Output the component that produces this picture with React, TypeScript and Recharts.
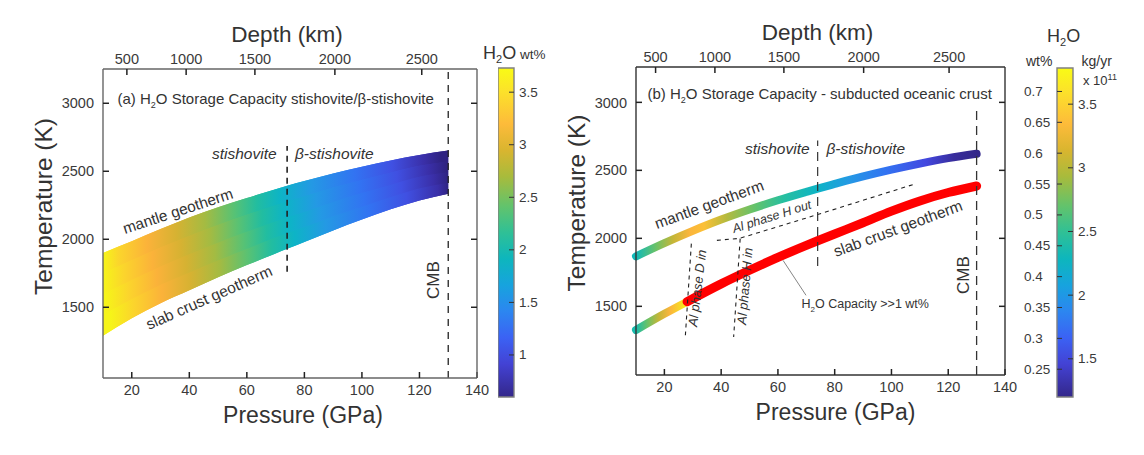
import {
  ComposedChart,
  Area,
  Bar,
  Line,
  XAxis,
  YAxis,
  ReferenceLine,
} from 'recharts';

// panel (a) band, edges from the mantle geotherm down to the slab crust geotherm
const bandPressure = [10, 20, 30, 40, 50, 60, 70, 74, 80, 90, 100, 110, 120, 130];
const bandMantle = [1900, 1985, 2075, 2160, 2235, 2303, 2368, 2393, 2428, 2483, 2533, 2580, 2620, 2652];
const bandUpper = [1750, 1845, 1940, 2025, 2105, 2180, 2250, 2278, 2315, 2380, 2436, 2490, 2540, 2572];
const bandMiddle = [1595, 1700, 1800, 1890, 1975, 2055, 2130, 2160, 2200, 2275, 2340, 2400, 2460, 2493];
const bandLower = [1445, 1560, 1665, 1755, 1845, 1930, 2015, 2045, 2090, 2170, 2240, 2310, 2375, 2414];
const bandSlab = [1290, 1420, 1530, 1625, 1720, 1810, 1895, 1930, 1980, 2065, 2145, 2220, 2285, 2335];

// panel (b) geotherms
const mantlePressure = [10, 20, 30, 40, 50, 60, 70, 74, 80, 90, 100, 110, 120, 130];
const mantleTemp = [1868, 1965, 2055, 2138, 2212, 2280, 2342, 2366, 2400, 2455, 2505, 2550, 2590, 2622];
const slabLowPressure = [10, 20, 28];
const slabLowTemp = [1326, 1445, 1534];
const slabHighPressure = [28, 40, 50, 60, 70, 74, 80, 90, 100, 110, 120, 130];
const slabHighTemp = [1534, 1665, 1765, 1860, 1948, 1982, 2032, 2115, 2200, 2275, 2337, 2385];

// phase boundaries, [pressure, temperature]
const phaseDIn = [[29.5, 1961], [27.4, 1287]];
const phaseHIn = [[46.7, 1998], [44.4, 1274]];
const phaseHOut = [[38.5, 1985], [46.5, 2000], [74, 2175], [108.6, 2402]];
const capacityLeader = [[61.8, 1838], [69.9, 1581]];

// axes
const pressureTicks = [20, 40, 60, 80, 100, 120, 140];
const tempTicks = [1500, 2000, 2500, 3000];
const depthLabels = [500, 1000, 1500, 2000, 2500];
const depthPressureA = [18.3, 38.9, 62.8, 90.6, 120.8];
const depthPressureB = [16.9, 37.8, 62.1, 90.2, 120.3];

// colour bars
const barTicksA = [1, 1.5, 2, 2.5, 3, 3.5];
const barTicksWt = [0.25, 0.3, 0.35, 0.4, 0.45, 0.5, 0.55, 0.6, 0.65, 0.7];
const barTicksKg = [1.5, 2, 2.5, 3, 3.5];

const parula = [
  [0, '#f9fb15'], [0.07, '#fce22a'], [0.17, '#fdbb3a'], [0.25, '#d9b52f'], [0.33, '#a8bb3c'],
  [0.42, '#62c36c'], [0.5, '#2fc096'], [0.58, '#0db6bd'], [0.66, '#17a3de'], [0.74, '#2c86f0'],
  [0.82, '#3b62f4'], [0.9, '#4342d4'], [1, '#33278a'],
];
const bandStops = [
  [10, '#f6f518'], [18, '#fbd52c'], [28, '#fbb23a'], [38, '#d6b232'], [48, '#a4bb42'], [58, '#58c274'],
  [66, '#22bda0'], [74, '#0db4c6'], [85, '#2499e4'], [100, '#3273f2'], [113, '#4050e2'], [124, '#3a2fa8'], [130, '#2f2382'],
];
const mantleStops = [
  [10, '#10b9b8'], [17, '#6ac268'], [23, '#c4b638'], [29, '#fbb53c'], [34, '#fbc035'], [42, '#b4ba3e'], [52, '#62c36c'],
  [62, '#27bfa0'], [74, '#0db4c6'], [85, '#2499e4'], [98, '#3273f2'], [112, '#4348e0'], [122, '#382d9c'], [130, '#33278a'],
];
const slabLowStops = [
  [10, '#18bcae'], [14, '#6ac268'], [18, '#c4b638'], [22, '#fbb53c'], [28, '#f6f018'],
];
// how far the colours of each slice of the band lag behind in pressure, top slice first
const sliceShift = [-2.5, -0.8, 0.8, 2.5];

const inkColor = '#333';
const tickStyle = { fontSize: 14.5, fill: '#3a3a3a' };

const rows = (ps: number[], keys: Record<string, number[]>) =>
  ps.map((p, i) => {
    const row: Record<string, number> = { p };
    Object.keys(keys).forEach((k) => (row[k] = keys[k][i]));
    return row;
  });
const pairs = (pts: number[][]) => pts.map(([p, t]) => ({ p, t }));

const bandData = bandPressure.map((p, i) => ({
  p,
  t: bandMantle[i],
  full: [bandSlab[i], bandMantle[i]],
  s0: [bandUpper[i], bandMantle[i]],
  s1: [bandMiddle[i], bandUpper[i]],
  s2: [bandLower[i], bandMiddle[i]],
  s3: [bandSlab[i], bandLower[i]],
}));
const mantleData = rows(mantlePressure, { t: mantleTemp });
const slabLowData = rows(slabLowPressure, { t: slabLowTemp });
const slabHighData = rows(slabHighPressure, { t: slabHighTemp });

const pStops = (stops: (number | string)[][], id: string, shift = 0) => (
  <linearGradient key={id} id={id} x1="0" y1="0" x2="1" y2="0">
    {stops.map(([p, c]) => (
      <stop key={String(p)} offset={Math.min(1, Math.max(0, ((p as number) + shift - 10) / 120))} stopColor={c as string} />
    ))}
  </linearGradient>
);

interface FrameOpts {
  xDomain: number[];
  yDomain: number[];
  depthTicks: number[];
  border: string;
  titleDx: number;
  titleYDy: number;
}

// the four-sided frame both panels share
function frameAxes(o: FrameOpts) {
  const tickLine = { stroke: '#222', strokeWidth: 1.5 };
  return [
    <XAxis
      key="b"
      xAxisId="bottom"
      dataKey="p"
      type="number"
      domain={o.xDomain}
      ticks={pressureTicks}
      height={26}
      tickSize={-6}
      tickMargin={13}
      tick={tickStyle}
      tickLine={tickLine}
      interval={0}
      stroke={o.border}
      strokeWidth={1.4}
      label={{ value: 'Pressure (GPa)', position: 'bottom', offset: 3, dx: o.titleDx, style: { fontSize: 23, fill: inkColor } }}
    />,
    <XAxis
      key="t"
      xAxisId="top"
      dataKey="p"
      orientation="top"
      type="number"
      domain={o.xDomain}
      ticks={o.depthTicks}
      tickFormatter={(_v: number, i: number) => String(depthLabels[i])}
      height={30}
      tickSize={-6}
      tickMargin={11}
      tick={tickStyle}
      tickLine={tickLine}
      interval={0}
      stroke={o.border}
      strokeWidth={1.4}
      label={{ value: 'Depth (km)', position: 'top', offset: -3, dx: -3, style: { fontSize: 22.5, fill: inkColor } }}
    />,
    <YAxis
      key="l"
      yAxisId="left"
      type="number"
      domain={o.yDomain}
      ticks={tempTicks}
      width={60}
      tickSize={-6}
      tickMargin={15}
      tick={tickStyle}
      tickLine={tickLine}
      interval={0}
      stroke={o.border}
      strokeWidth={1.4}
      label={{ value: 'Temperature (K)', position: 'left', angle: -90, offset: 0, dy: o.titleYDy, style: { fontSize: 24.5, fill: inkColor, textAnchor: 'middle' } }}
    />,
    <YAxis
      key="r"
      yAxisId="right"
      orientation="right"
      type="number"
      domain={o.yDomain}
      ticks={tempTicks}
      width={30}
      tickSize={-6}
      tick={() => <g />}
      tickLine={tickLine}
      interval={0}
      stroke={o.border}
      strokeWidth={1.4}
    />,
    // keeps the top and right axes alive, they have no series of their own
    <Line key="h" xAxisId="top" yAxisId="right" data={mantleData} dataKey="t" stroke="none" dot={false} activeDot={false} isAnimationActive={false} />,
  ];
}

const axisIds = { xAxisId: 'bottom', yAxisId: 'left' };

function PanelA() {
  const o: FrameOpts = {
    xDomain: [10, 140], yDomain: [980, 3252], depthTicks: depthPressureA, border: '#666', titleDx: 13, titleYDy: -17,
  };
  return (
    <ComposedChart
      width={560}
      height={455}
      data={bandData}
      margin={{ top: 39, bottom: 51, left: 43, right: 53 }}
      style={{ position: 'absolute', left: 0, top: 0 }}
    >
      <defs>
        {pStops(bandStops, 'bandFull')}
        {sliceShift.map((s, i) => pStops(bandStops, `bandSlice${i}`, s))}
      </defs>
      {frameAxes(o)}
      <Area {...axisIds} dataKey="full" type="monotone" fill="url(#bandFull)" fillOpacity={1} stroke="none" dot={false} activeDot={false} isAnimationActive={false} />
      {sliceShift.map((_, i) => (
        <Area key={i} {...axisIds} dataKey={`s${i}`} type="monotone" fill={`url(#bandSlice${i})`} fillOpacity={1} stroke="none" dot={false} activeDot={false} isAnimationActive={false} />
      ))}
      <ReferenceLine {...axisIds} segment={[{ x: 74, y: 1762 }, { x: 74, y: 2686 }]} stroke="#222" strokeWidth={1.6} strokeDasharray="6 5" />
      <ReferenceLine {...axisIds} x={130} stroke="#222" strokeWidth={1.3} strokeDasharray="7 6" />
    </ComposedChart>
  );
}

const dashLine = (key: string, pts: number[][], dash: string, width = 1.1, color = '#222') => (
  <Line key={key} {...axisIds} data={pairs(pts)} dataKey="t" stroke={color} strokeWidth={width} strokeDasharray={dash} dot={false} activeDot={false} isAnimationActive={false} />
);

function PanelB() {
  const o: FrameOpts = {
    xDomain: [10, 140], yDomain: [995, 3260], depthTicks: depthPressureB, border: '#333', titleDx: 15, titleYDy: -18,
  };
  return (
    <ComposedChart
      width={490}
      height={455}
      margin={{ top: 37, bottom: 54, left: 16, right: 15 }}
      style={{ position: 'absolute', left: 560, top: 0 }}
    >
      <defs>
        {pStops(mantleStops, 'mantleStroke')}
        <linearGradient id="slabLowStroke" x1="0" y1="0" x2="1" y2="0">
          {slabLowStops.map(([p, c]) => (
            <stop key={String(p)} offset={((p as number) - 10) / 18} stopColor={c as string} />
          ))}
        </linearGradient>
      </defs>
      {frameAxes(o)}
      <Line {...axisIds} data={mantleData} dataKey="t" type="monotone" stroke="url(#mantleStroke)" strokeWidth={8} strokeLinecap="round" dot={false} activeDot={false} isAnimationActive={false} />
      <Line {...axisIds} data={slabLowData} dataKey="t" type="monotone" stroke="url(#slabLowStroke)" strokeWidth={8} strokeLinecap="round" dot={false} activeDot={false} isAnimationActive={false} />
      <Line {...axisIds} data={slabHighData} dataKey="t" type="monotone" stroke="#ff0000" strokeWidth={9} strokeLinecap="round" dot={false} activeDot={false} isAnimationActive={false} />
      {dashLine('din', phaseDIn, '4 4')}
      {dashLine('hin', phaseHIn, '4 4')}
      {dashLine('hout', phaseHOut, '4 4')}
      {dashLine('leader', capacityLeader, '', 0.8, '#666')}
      <ReferenceLine {...axisIds} segment={[{ x: 74, y: 1796 }, { x: 74, y: 2720 }]} stroke="#333" strokeWidth={1.2} strokeDasharray="9 6" />
      <ReferenceLine {...axisIds} segment={[{ x: 130, y: 995 }, { x: 130, y: 2960 }]} stroke="#333" strokeWidth={1.3} strokeDasharray="9 6" />
    </ComposedChart>
  );
}

function BarTick({ y, payload, anchorX }: any) {
  return (
    <text x={anchorX} y={y} dy={4.5} fontSize={13.5} fill="#3a3a3a" textAnchor="start">
      {payload.value}
    </text>
  );
}

// the bar goes in its own chart so the axis ticks of the chart above it stay on top
function ColorBar({ chartLeft, barWidth, domain, ticks, kgTicks, kgDomain, id }: any) {
  const leftPad = kgTicks ? 40 : 0;
  const totalWidth = barWidth + leftPad + 45;
  const tickLine = { stroke: '#333', strokeWidth: 1 };
  const mainDomain = kgTicks ? kgDomain : domain;
  const row = [{ p: 'bar', range: domain, main: mainDomain }];
  const place = { position: 'absolute' as const, left: chartLeft - leftPad, top: 0 };
  return (
    <>
      <ComposedChart width={totalWidth} height={455} data={row} margin={{ top: 68, bottom: 58, left: leftPad, right: 45 }} barCategoryGap={0} style={place}>
        <defs>
          <linearGradient id={id} x1="0" y1="0" x2="0" y2="1">
            {parula.map(([o, c]) => (
              <stop key={String(o)} offset={o as number} stopColor={c as string} />
            ))}
          </linearGradient>
        </defs>
        <XAxis dataKey="p" hide />
        <YAxis type="number" domain={domain} hide />
        <Bar dataKey="range" fill={`url(#${id})`} stroke="#808080" strokeWidth={1.4} isAnimationActive={false} />
      </ComposedChart>
      <ComposedChart width={totalWidth} height={455} data={row} margin={{ top: 68, bottom: 58, left: 0, right: 0 }} barCategoryGap={0} style={place}>
        <XAxis dataKey="p" hide />
        <XAxis xAxisId="aux" dataKey="p" hide />
        {kgTicks ? (
          <YAxis
            yAxisId="wt"
            type="number"
            domain={domain}
            ticks={ticks}
            width={leftPad}
            axisLine={false}
            tickSize={-5}
            tickLine={tickLine}
            interval={0}
            tick={<BarTick anchorX={7} />}
          />
        ) : null}
        <YAxis
          yAxisId="main"
          orientation="right"
          type="number"
          domain={mainDomain}
          ticks={kgTicks || ticks}
          width={45}
          axisLine={false}
          tickSize={-5}
          tickLine={tickLine}
          interval={0}
          tick={<BarTick anchorX={barWidth + leftPad + 5} />}
        />
        {kgTicks ? <Bar yAxisId="wt" dataKey="range" fill="none" isAnimationActive={false} /> : null}
        <Bar xAxisId="aux" yAxisId="main" dataKey="main" fill="none" isAnimationActive={false} />
      </ComposedChart>
    </>
  );
}

function Note({ x, y, rotate = 0, size = 14, italic = false, children, color = '#333', anchor = 'start' }: any) {
  return (
    <text
      x={x}
      y={y}
      fontSize={size}
      fontStyle={italic ? 'italic' : 'normal'}
      fill={color}
      textAnchor={anchor}
      transform={rotate ? `rotate(${rotate} ${x} ${y})` : undefined}
    >
      {children}
    </text>
  );
}

// "H2O" with a dropped 2, then whatever follows on the raised baseline
const Water = ({ size = 9, rest = 'O' }: any) => (
  <>
    H<tspan dy={4} fontSize={size}>2</tspan><tspan dy={-4}>{rest}</tspan>
  </>
);

function Notes() {
  return (
    <svg width={1144} height={455} style={{ position: 'absolute', left: 0, top: 0, pointerEvents: 'none', fontFamily: '"Liberation Sans", Arial, sans-serif' }}>
      <Note x={117.5} y={104} size={15}>(a) <Water rest="O Storage Capacity stishovite/β-stishovite" /></Note>
      <Note x={212} y={159} size={15.5} italic>stishovite</Note>
      <Note x={295} y={159} size={15.5} italic>β-stishovite</Note>
      <Note x={125} y={234} size={15.3} rotate={-18.3}>mantle geotherm</Note>
      <Note x={149} y={330} size={15.5} rotate={-23.9}>slab crust geotherm</Note>
      <Note x={439} y={299} size={17} rotate={-90}>CMB</Note>
      <Note x={483} y={59} size={18}><Water size={11} /></Note>
      <Note x={520} y={59} size={13.5}>wt%</Note>

      <Note x={647.5} y={99} size={15}>(b) <Water rest="O Storage Capacity - subducted oceanic crust" /></Note>
      <Note x={745} y={154} size={15.5} italic>stishovite</Note>
      <Note x={826.5} y={154} size={15.5} italic>β-stishovite</Note>
      <Note x={657} y={229} size={15.3} rotate={-20}>mantle geotherm</Note>
      <Note x={734} y={233} size={12.5} italic rotate={-17.7}>Al phase H out</Note>
      <Note x={836} y={257} size={15.5} rotate={-20.3}>slab crust geotherm</Note>
      <Note x={697} y={327} size={13} italic rotate={-83}>Al phase D in</Note>
      <Note x={746} y={325} size={13} italic rotate={-85}>Al phase H in</Note>
      <Note x={801.5} y={308} size={12.5}><Water size={8} rest="O Capacity >>1 wt%" /></Note>
      <Note x={969} y={294} size={17} rotate={-90}>CMB</Note>
      <Note x={1047} y={42} size={18}><Water size={11} /></Note>
      <Note x={1026} y={66} size={14}>wt%</Note>
      <Note x={1081.5} y={66} size={14}>kg/yr</Note>
      <Note x={1083} y={85} size={13}>x 10<tspan dy={-5} fontSize={9}>11</tspan></Note>
    </svg>
  );
}

export default function App() {
  return (
    <div style={{ position: 'absolute', left: 0, top: 0, width: 1144, height: 455, background: '#fff', fontFamily: '"Liberation Sans", Arial, sans-serif' }}>
      <PanelA />
      <PanelB />
      <ColorBar chartLeft={498} barWidth={16} domain={[0.6, 3.73]} ticks={barTicksA} id="barA" />
      <ColorBar chartLeft={1057} barWidth={16} domain={[0.205, 0.738]} ticks={barTicksWt} kgTicks={barTicksKg} kgDomain={[1.2, 3.784]} id="barB" />
      <Notes />
    </div>
  );
}
